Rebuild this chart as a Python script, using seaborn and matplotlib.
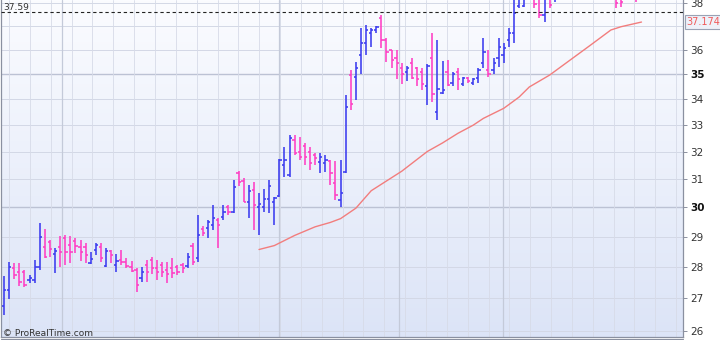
import numpy as np
import matplotlib
matplotlib.use("Agg")
import matplotlib.pyplot as plt
import matplotlib.transforms as mtransforms
from matplotlib.colors import LinearSegmentedColormap
from matplotlib.ticker import FixedLocator, FixedFormatter, NullLocator
from matplotlib.lines import Line2D
import seaborn as sns

# ---------------- data ----------------
opens = [26.75, 27.27, 27.97, 27.84, 27.84, 27.59, 27.59, 28.00, 28.66, 28.82,
         28.43, 28.65, 28.96, 28.73, 28.85, 28.66, 28.66, 28.13, 28.56, 28.66,
         28.03, 28.53, 28.07, 28.23, 28.17, 28.00, 27.90, 27.65, 28.07, 28.23,
         27.98, 28.07, 27.90, 27.95, 28.00, 28.07, 28.03, 28.69, 28.30, 29.27,
         29.30, 29.40, 29.57, 29.67, 30.00, 29.85, 31.20, 30.93, 30.20, 30.60,
         30.00, 30.00, 30.28, 30.20, 30.38, 31.50, 31.14, 32.42, 31.98, 32.20,
         31.98, 31.88, 31.62, 31.58, 31.66, 30.86, 30.25, 31.25, 34.96, 34.90,
         35.80, 36.27, 36.70, 36.82, 37.35, 36.40, 35.98, 35.65, 35.26, 35.08,
         35.45, 35.26, 35.08, 34.50, 35.65, 33.50, 34.25, 35.07, 34.65, 35.08,
         34.60, 34.85, 34.65, 34.83, 35.45, 35.15, 35.15, 35.65, 35.78, 36.40,
         36.70, 37.87, 37.85, 38.60, 38.60, 38.50, 37.48, 38.60, 38.30, 38.80,
         39.20, 39.60, 39.90, 40.00, 40.30, 40.00, 39.70, 39.90, 39.60, 39.20,
         38.80, 38.60, 38.20, 38.80, 39.00, 38.50]
highs = [27.70, 28.17, 28.13, 28.13, 27.90, 27.75, 28.23, 29.47, 29.26, 28.89,
         28.62, 29.02, 29.06, 29.02, 28.96, 28.89, 28.79, 28.50, 28.79, 28.80,
         28.62, 28.56, 28.43, 28.56, 28.30, 28.20, 27.97, 28.00, 28.23, 28.33,
         28.23, 28.17, 28.17, 28.30, 28.07, 28.13, 28.46, 28.79, 29.73, 29.37,
         29.57, 30.07, 29.64, 30.07, 30.07, 30.97, 31.28, 31.03, 30.79, 30.90,
         30.50, 30.65, 30.97, 30.35, 31.73, 32.17, 32.62, 32.62, 32.54, 32.30,
         32.17, 31.95, 31.95, 31.88, 31.70, 31.66, 31.70, 34.15, 35.15, 35.48,
         36.90, 37.04, 36.90, 37.00, 37.48, 36.48, 35.98, 35.98, 35.45, 35.34,
         35.66, 35.30, 35.26, 35.42, 36.70, 36.40, 35.55, 35.58, 35.08, 35.26,
         34.90, 34.90, 34.85, 35.26, 36.50, 35.98, 35.66, 36.48, 36.27, 36.90,
         38.40, 38.60, 38.70, 39.00, 38.90, 38.80, 38.70, 38.80, 38.90, 39.40,
         39.90, 40.20, 40.40, 40.60, 40.80, 40.50, 40.20, 40.40, 40.00, 39.80,
         39.20, 38.90, 39.00, 39.40, 39.30, 39.40]
lows = [26.50, 26.98, 27.62, 27.40, 27.37, 27.49, 27.49, 27.90, 28.30, 28.33,
        27.80, 28.00, 28.07, 28.13, 28.46, 28.20, 28.13, 28.10, 28.40, 28.15,
        28.00, 28.13, 27.84, 28.07, 27.97, 27.84, 27.21, 27.52, 27.52, 27.78,
        27.59, 27.68, 27.49, 27.65, 27.75, 27.81, 27.97, 28.07, 28.17, 29.02,
        28.96, 29.23, 28.62, 29.57, 29.73, 29.80, 30.76, 30.18, 29.64, 29.23,
        29.05, 29.84, 29.80, 29.40, 30.35, 31.07, 31.07, 31.88, 31.70, 31.50,
        31.32, 31.50, 31.20, 31.25, 30.79, 30.25, 30.00, 31.20, 33.56, 33.96,
        35.00, 35.80, 36.10, 36.70, 36.07, 35.50, 35.26, 34.78, 34.60, 34.70,
        34.78, 34.50, 34.36, 33.77, 33.88, 33.20, 34.20, 34.50, 34.50, 34.36,
        34.50, 34.65, 34.56, 34.64, 35.26, 34.90, 35.00, 35.30, 35.45, 36.10,
        36.27, 37.78, 37.82, 38.20, 37.78, 37.35, 37.17, 37.78, 38.05, 38.50,
        38.90, 39.30, 39.50, 39.60, 39.80, 39.50, 39.20, 39.40, 38.90, 38.70,
        37.78, 37.82, 38.15, 38.50, 38.05, 38.25]
closes = [27.25, 28.00, 27.75, 27.52, 27.43, 27.65, 28.00, 28.99, 28.33, 28.59,
          28.53, 28.50, 28.50, 28.50, 28.70, 28.50, 28.40, 28.26, 28.73, 28.30,
          28.53, 28.40, 28.20, 28.17, 28.03, 27.87, 27.43, 27.84, 27.84, 27.97,
          27.85, 27.84, 27.78, 27.82, 27.84, 27.97, 28.33, 28.17, 29.06, 29.13,
          29.50, 29.64, 29.40, 29.84, 29.84, 30.70, 30.90, 30.20, 30.56, 30.07,
          30.10, 30.30, 30.76, 30.32, 31.70, 31.70, 32.50, 31.95, 31.80, 31.80,
          31.58, 31.77, 31.80, 31.70, 31.20, 30.43, 30.50, 33.70, 33.80, 35.26,
          36.27, 36.82, 36.82, 36.95, 36.40, 35.90, 35.58, 35.46, 35.00, 35.26,
          34.84, 34.78, 34.60, 35.34, 34.20, 34.40, 34.35, 34.56, 35.00, 34.78,
          34.84, 34.73, 34.78, 35.15, 35.90, 35.00, 35.45, 36.10, 36.05, 36.70,
          37.56, 38.30, 38.35, 38.50, 37.95, 37.48, 38.40, 37.90, 38.70, 39.20,
          39.70, 39.90, 40.10, 40.30, 40.00, 39.70, 39.90, 39.60, 39.20, 38.90,
          38.00, 38.05, 38.80, 39.10, 38.40, 39.20]

ma_index = [50, 53, 57, 61, 64, 66, 69, 72, 78, 83, 86, 89, 92, 94, 98, 101,
            103, 107, 111, 115, 119, 121, 125]
ma_values = [28.57, 28.70, 29.04, 29.33, 29.48, 29.61, 29.97, 30.58, 31.28,
             32.00, 32.32, 32.68, 32.99, 33.25, 33.64, 34.08, 34.48, 34.96,
             35.57, 36.19, 36.83, 36.97, 37.17]

price_ticks = [26, 27, 28, 29, 30, 31, 32, 33, 34, 35, 36, 38]
price_labels = ["26", "27", "28", "29", "30", "31", "32", "33", "34", "35", "36", "38"]
bold_labels = ["30", "35"]
grid_prices = [26, 27, 28, 29, 30, 31, 32, 33, 34, 35, 36, 37, 38]
ref_level = 37.59
ref_text = "37.59"
ma_last_text = "37.174"
ma_last_value = 37.174
copyright_text = "© ProRealTime.com"

# ---------------- style ----------------
sns.set_theme(style="white")
plt.rcParams["font.family"] = ["DejaVu Sans"]

BLUE = "#3b3bef"
MAGENTA = "#ff3ec4"
MA_COLOR = "#f27d7d"

W, H = 720, 340
fig = plt.figure(figsize=(7.2, 3.4), dpi=100)
fig.patch.set_facecolor("white")
pos = [1 / W, 3 / H, 682 / W, 337 / H]

# gradient background
bg = fig.add_axes(pos, zorder=0)
grad = np.linspace(0, 1, 256).reshape(-1, 1)
cmap = LinearSegmentedColormap.from_list("bg", ["#fbfcff", "#dce4f7"])
bg.imshow(grad, aspect="auto", cmap=cmap, extent=(0, 1, 0, 1), origin="upper")
bg.set_axis_off()

ax = fig.add_axes(pos, zorder=1)
ax.set_facecolor("none")
ax.set_yscale("log")
x_lo, x_hi = -0.59, 133.14
y_lo, y_hi = 25.82, 38.13

# grid: horizontal
for p in grid_prices:
    heavy = p in (30, 35)
    ax.axhline(p, color="#bcc2d4" if heavy else "#d3d8e6", lw=1.0 if heavy else 0.7, zorder=1)
# grid: vertical (layout positions, px -> bar index)
px_to_idx = lambda px: (px - 4) / 5.1
for k in range(33):
    ax.axvline(px_to_idx(9 + 20.85 * k), color="#d7dbe8", lw=0.6, zorder=1)
for px in (62, 279, 399, 503):
    ax.axvline(px_to_idx(px), color="#c4cad9", lw=0.9, zorder=1)

# OHLC bars
o = np.array(opens); h = np.array(highs); l = np.array(lows); c = np.array(closes)
idx = np.arange(len(o))
cols = np.where(c >= o, BLUE, MAGENTA)
ax.vlines(idx, l, h, colors=cols, lw=1.15, zorder=3)
ax.hlines(o, idx - 0.45, idx, colors=cols, lw=1.15, zorder=3)
ax.hlines(c, idx, idx + 0.45, colors=cols, lw=1.15, zorder=3)

# moving average
sns.lineplot(x=ma_index, y=ma_values, ax=ax, color=MA_COLOR, lw=1.0,
             zorder=4, legend=False)

# reference dashed line
ax.axhline(ref_level, color="#222222", lw=0.8, ls=(0, (3, 2.5)), zorder=5)

ax.set_xlim(x_lo, x_hi)
ax.set_ylim(y_lo, y_hi)

# axes
ax.set_xticks([])
ax.set_xlabel("")
ax.set_ylabel("")
ax.yaxis.tick_right()
ax.yaxis.set_major_locator(FixedLocator(price_ticks))
ax.yaxis.set_major_formatter(FixedFormatter(price_labels))
ax.yaxis.set_minor_locator(NullLocator())
ax.tick_params(axis="y", which="major", direction="out", length=3, width=0.6,
               color="#7a8090", labelcolor="#333333", labelsize=7.5, pad=2,
               right=True, left=False)
for t in ax.get_yticklabels():
    if t.get_text() in bold_labels:
        t.set_fontweight("bold")
        t.set_color("#111111")
for s in ("left", "right", "bottom"):
    ax.spines[s].set_color("#8a90a0")
    ax.spines[s].set_linewidth(0.9)
    ax.spines[s].set_visible(True)
ax.spines["top"].set_visible(False)

# second bottom line
fig.add_artist(Line2D([1 / W, 683 / W], [0.8 / H, 0.8 / H], color="#8a90a0", lw=0.8))

# last MA value box
trans = mtransforms.blended_transform_factory(ax.transAxes, ax.transData)
ax.text(1.005, ma_last_value, ma_last_text, transform=trans, color="#f05a5a",
        fontsize=7, va="center", ha="left", clip_on=False, zorder=6,
        bbox=dict(boxstyle="square,pad=0.18", fc="#eef1f9", ec="#9aa2b4", lw=0.8))

# texts
fig.text(3 / W, 1 - 8 / H, ref_text, fontsize=6.5, color="#333333", va="center", ha="left")
fig.text(3 / W, 1 - 333 / H, copyright_text, fontsize=6.5, color="#333333",
         va="center", ha="left")

fig.savefig("out.png", dpi=100)
